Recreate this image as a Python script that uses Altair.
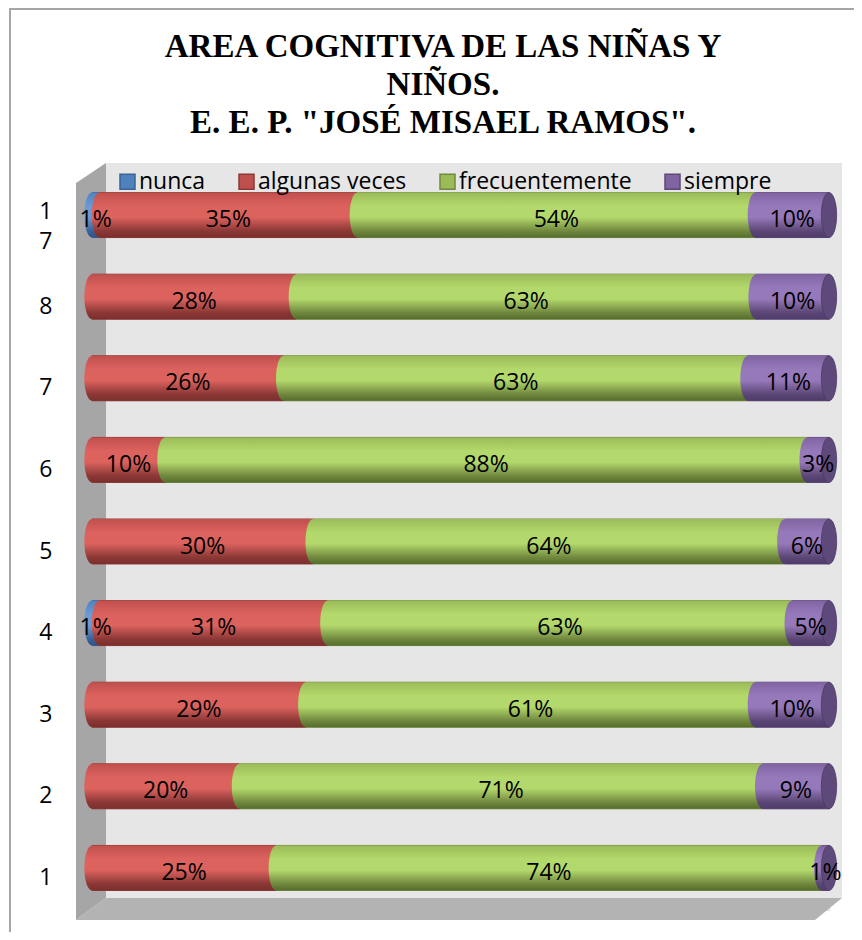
import altair as alt
import pandas as pd

rows = ["17", "8", "7", "6", "5", "4", "3", "2", "1"]
categories = ["nunca", "algunas veces", "frecuentemente", "siempre"]
nunca = [1, 0, 0, 0, 0, 1, 0, 0, 0]
algunas = [35, 28, 26, 10, 30, 31, 29, 20, 25]
frecuente = [54, 63, 63, 88, 64, 63, 61, 71, 74]
siempre = [10, 10, 11, 3, 6, 5, 10, 9, 1]

base_colors = ["#4f81bd", "#c0504d", "#9bbb59", "#8064a2"]
stroke_colors = ["#3a6399", "#8c3836", "#71893f", "#5c4776"]
light_colors = ["#6b9ad6", "#dc625e", "#b3d86b", "#9579ba"]
dark_colors = ["#2f5283", "#7a2f2d", "#566d2c", "#4e3c6a"]
cap_color = "#5d4a7b"

records = []
for series_idx, (cat, vals) in enumerate(zip(categories, [nunca, algunas, frecuente, siempre])):
    for r, v in zip(rows, vals):
        records.append({"row": r, "cat": cat, "order": series_idx, "value": v})
df = pd.DataFrame(records)

# plot origin on the page (canvas starts at 8,8)
OX, OY = 92, 173
W, H = 737, 737
PAD = {"left": OX - 8, "top": OY - 8, "right": 846 - (OX - 8) - W, "bottom": 924 - (OY - 8) - H}


def P(pts):
    """page coords -> path relative to plot origin"""
    s = []
    for k, (x, y) in enumerate(pts):
        s.append(("M" if k == 0 else "L") + f"{x - OX},{y - OY}")
    return " ".join(s)


yscale = alt.Scale(domain=rows, paddingInner=0.449, paddingOuter=0.24)
xscale = alt.Scale(domain=[0, 1], nice=False, zero=False)

base = alt.Chart(df).transform_filter("datum.value > 0").transform_stack(
    stack="value", groupby=["row"], as_=["x0", "x1"], offset="normalize",
    sort=[alt.SortField("order", order="ascending")]
).transform_calculate(mid="(datum.x0 + datum.x1) / 2")


def grad(i):
    return alt.LinearGradient(
        gradient="linear", x1=0, y1=0, x2=0, y2=1,
        stops=[
            alt.GradientStop(offset=0, color=base_colors[i]),
            alt.GradientStop(offset=0.3, color=light_colors[i]),
            alt.GradientStop(offset=0.55, color=light_colors[i]),
            alt.GradientStop(offset=0.85, color=stroke_colors[i]),
            alt.GradientStop(offset=1, color=dark_colors[i]),
        ],
    )


one = alt.Chart(pd.DataFrame({"k": [0]}))


def deco(path, fill=None, stroke=None, sw=0):
    kw = dict(shape=path, size=4, opacity=1, strokeWidth=sw)
    if fill is not None:
        kw.update(filled=True, fill=fill)
    else:
        kw.update(filled=False)
    if stroke is not None:
        kw.update(stroke=stroke)
    return one.mark_point(**kw).encode(x=alt.value(0), y=alt.value(0))


back_wall = deco(P([(106, 163), (842, 163), (842, 898), (106, 898)]) + " Z", fill="#e6e6e6")
left_wall = deco(P([(76, 183), (106, 163), (106, 898), (76, 920)]) + " Z", fill="#a6a6a6")
floor = deco(P([(76, 920), (106, 898), (842, 898), (815, 920)]) + " Z", fill="#b3b3b3")
border = deco(P([(10, 933), (10, 9), (854, 9)]), stroke="#a6a6a6", sw=2)

FS = 23

ycommon = alt.Y(
    "row:N", scale=yscale, sort=rows, title=None,
    axis=alt.Axis(
        ticks=False, domain=False, grid=False, labelFont="Open Sans",
        labelFontSize=FS, labelColor="black", labelPadding=40,
        labelOffset={"condition": {"test": "datum.value == '17'", "value": -3}, "value": 10},
        labelLineHeight=30,
        labelExpr="datum.value == '17' ? ['1', '7'] : datum.label",
    ),
)

flat = base.mark_bar(opacity=1).encode(
    x=alt.X("x0:Q", scale=xscale, axis=None),
    x2="x1:Q",
    y=ycommon,
    color=alt.Color(
        "cat:N", scale=alt.Scale(domain=categories, range=base_colors),
        legend=alt.Legend(
            orient="none", legendX=116 - OX, legendY=-3, direction="horizontal",
            title=None, symbolType="square", symbolSize=225,
            symbolStrokeWidth=1.5, labelFont="Open Sans", labelFontSize=FS,
            labelColor="black", columnPadding=29, labelOffset=0,
            symbolOpacity=1, labelLimit=400,
        ),
    ),
    stroke=alt.Stroke("cat:N", scale=alt.Scale(domain=categories, range=stroke_colors)),
)

layers = [back_wall, left_wall, floor, border, flat]

for i, cat in enumerate(categories):
    layers.append(
        base.transform_filter(alt.datum.cat == cat).mark_bar(
            opacity=1, fill=grad(i), strokeWidth=0
        ).encode(x=alt.X("x0:Q", scale=xscale), x2="x1:Q", y=alt.Y("row:N", scale=yscale, sort=rows))
    )

ELLIPSE = "M0,-1 A0.34,1 0 1,1 0,1 A0.34,1 0 1,1 0,-1 Z"
for i, cat in enumerate(categories):
    layers.append(
        base.transform_filter(alt.datum.cat == cat).mark_point(
            shape=ELLIPSE, size=2025, filled=True, opacity=1, fill=grad(i), strokeWidth=0
        ).encode(x=alt.X("x0:Q", scale=xscale), y=alt.Y("row:N", scale=yscale, sort=rows))
    )

cap = base.transform_filter(alt.datum.cat == "siempre").mark_point(
    shape=ELLIPSE, size=2025, filled=True, opacity=1, fill=cap_color,
    stroke="#4a3a63", strokeWidth=0.8
).encode(x=alt.X("x1:Q", scale=xscale), y=alt.Y("row:N", scale=yscale, sort=rows))
layers.append(cap)

labels = base.transform_calculate(lbl="datum.value + '%'").mark_text(
    font="Open Sans", fontSize=FS, color="black", baseline="middle", dy=5, opacity=1
).encode(
    x=alt.X("mid:Q", scale=xscale), y=alt.Y("row:N", scale=yscale, sort=rows), text="lbl:N"
)
layers.append(labels)

chart = alt.layer(*layers).properties(
    width=W, height=H,
    padding=PAD,
    autosize=alt.AutoSizeParams(type="none"),
    title=alt.TitleParams(
        text=["AREA COGNITIVA DE LAS NIÑAS Y", "NIÑOS.", 'E. E. P. "JOSÉ MISAEL RAMOS".'],
        font="Liberation Serif", fontWeight="bold", fontSize=33, lineHeight=38,
        anchor="middle", dx=-(OX + W / 2 - 443), offset=-135, color="black",
    ),
).configure_view(stroke=None).configure(background="white")

chart.save("out.html", embed_options={"renderer": "svg", "actions": False})
